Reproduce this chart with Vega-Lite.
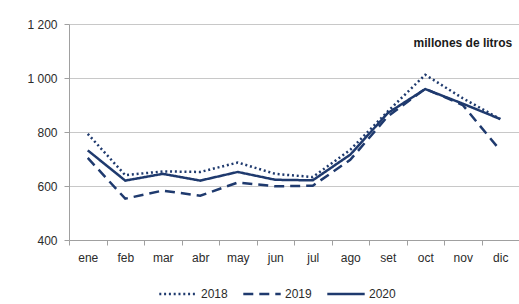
{
  "$schema": "https://vega.github.io/schema/vega-lite/v6.json",
  "width": 450,
  "height": 216,
  "autosize": {"type": "pad"},
  "padding": {"left": 0, "top": 18, "right": 0, "bottom": 0},
  "background": "white",
  "config": {
    "view": {"stroke": null},
    "font": "Liberation Sans",
    "axis": {
      "domainColor": "#a0a0a0",
      "tickColor": "#a0a0a0",
      "gridColor": "#c8c8c8",
      "labelColor": "#2b2b2b",
      "labelFontSize": 12,
      "tickSize": 5,
      "title": null
    }
  },
  "layer": [
    {
      "data": {
        "values": [
          {"mes": "ene", "anio": "2018", "valor": 793},
          {"mes": "feb", "anio": "2018", "valor": 640},
          {"mes": "mar", "anio": "2018", "valor": 654},
          {"mes": "abr", "anio": "2018", "valor": 652},
          {"mes": "may", "anio": "2018", "valor": 687},
          {"mes": "jun", "anio": "2018", "valor": 645},
          {"mes": "jul", "anio": "2018", "valor": 633},
          {"mes": "ago", "anio": "2018", "valor": 734},
          {"mes": "set", "anio": "2018", "valor": 876},
          {"mes": "oct", "anio": "2018", "valor": 1012},
          {"mes": "nov", "anio": "2018", "valor": 925},
          {"mes": "dic", "anio": "2018", "valor": 848},
          {"mes": "ene", "anio": "2019", "valor": 704},
          {"mes": "feb", "anio": "2019", "valor": 553},
          {"mes": "mar", "anio": "2019", "valor": 583},
          {"mes": "abr", "anio": "2019", "valor": 564},
          {"mes": "may", "anio": "2019", "valor": 613},
          {"mes": "jun", "anio": "2019", "valor": 599},
          {"mes": "jul", "anio": "2019", "valor": 601},
          {"mes": "ago", "anio": "2019", "valor": 697},
          {"mes": "set", "anio": "2019", "valor": 858},
          {"mes": "oct", "anio": "2019", "valor": 960},
          {"mes": "nov", "anio": "2019", "valor": 900},
          {"mes": "dic", "anio": "2019", "valor": 732},
          {"mes": "ene", "anio": "2020", "valor": 732},
          {"mes": "feb", "anio": "2020", "valor": 620},
          {"mes": "mar", "anio": "2020", "valor": 645},
          {"mes": "abr", "anio": "2020", "valor": 620},
          {"mes": "may", "anio": "2020", "valor": 652},
          {"mes": "jun", "anio": "2020", "valor": 623},
          {"mes": "jul", "anio": "2020", "valor": 621},
          {"mes": "ago", "anio": "2020", "valor": 716},
          {"mes": "set", "anio": "2020", "valor": 870},
          {"mes": "oct", "anio": "2020", "valor": 959},
          {"mes": "nov", "anio": "2020", "valor": 905},
          {"mes": "dic", "anio": "2020", "valor": 848}
        ]
      },
      "mark": {"type": "line", "color": "#1f3a6e", "strokeWidth": 2.5},
      "encoding": {
        "x": {
          "field": "mes",
          "type": "nominal",
          "sort": ["ene", "feb", "mar", "abr", "may", "jun", "jul", "ago", "set", "oct", "nov", "dic"],
          "scale": {"type": "band", "paddingInner": 0, "paddingOuter": 0},
          "bandPosition": 0.5,
          "axis": {"tickBand": "extent", "ticks": true, "labelAngle": 0, "labelPadding": 7, "grid": false}
        },
        "y": {
          "field": "valor",
          "type": "quantitative",
          "scale": {"domain": [400, 1200]},
          "axis": {
            "values": [400, 600, 800, 1000, 1200],
            "labelExpr": "replace(format(datum.value, ','), ',', ' ')",
            "labelPadding": 7,
            "minExtent": 69,
            "maxExtent": 69
          }
        },
        "strokeDash": {
          "field": "anio",
          "type": "nominal",
          "scale": {"domain": ["2018", "2019", "2020"], "range": [[2, 2.8], [10, 6], [1, 0]]},
          "legend": {
            "title": null,
            "orient": "none",
            "direction": "horizontal",
            "legendX": 89,
            "legendY": 250,
            "symbolType": "stroke",
            "symbolSize": 1400,
            "symbolStrokeWidth": 2.5,
            "symbolStrokeColor": "#1f3a6e",
            "labelFontSize": 12,
            "labelColor": "#2b2b2b",
            "labelOffset": 3,
            "columnPadding": 10
          }
        }
      }
    },
    {
      "data": {"values": [{}]},
      "mark": {"type": "text", "text": "millones de litros", "fontWeight": "bold", "fontSize": 12, "align": "right", "dx": 12, "color": "#1a1a1a"},
      "encoding": {
        "x": {"datum": "dic"},
        "y": {"datum": 1130}
      }
    }
  ]
}
